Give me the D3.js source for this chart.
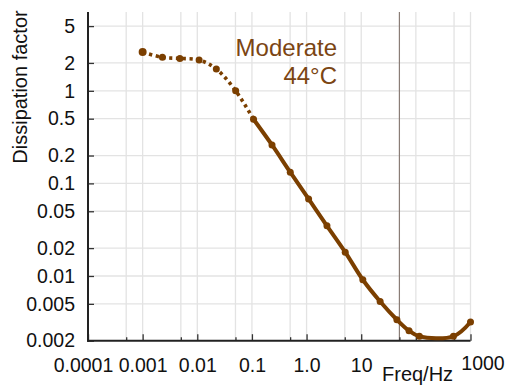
<!DOCTYPE html>
<html>
<head>
<meta charset="utf-8">
<script src="https://cdn.jsdelivr.net/npm/d3@7"></script>
<style>
  body { margin: 0; background: #fff; }
  svg { display: block; font-family: "Liberation Sans", Arial, sans-serif; }
</style>
</head>
<body>
<svg id="chart" width="507" height="387"></svg>
<script>
// frequencias (Hz) y factor de disipacion
const freqs = [0.001, 0.0023, 0.0048, 0.0108, 0.0223, 0.0504, 0.107, 0.233, 0.503, 1.09, 2.36, 5.1, 10.7, 22.2, 45, 75, 116, 487, 1000];
const dissipation = [2.62, 2.30, 2.24, 2.15, 1.72, 1.0, 0.493, 0.260, 0.132, 0.068, 0.0348, 0.0181, 0.0091, 0.0053, 0.00337, 0.00256, 0.00223, 0.00223, 0.00318];
const dottedUntil = 6; // los primeros puntos van punteados (hasta 0.1 Hz)

const yTicks = [0.002, 0.005, 0.01, 0.02, 0.05, 0.1, 0.2, 0.5, 1, 2, 5];
const yTickLabels = ["0.002", "0.005", "0.01", "0.02", "0.05", "0.1", "0.2", "0.5", "1", "2", "5"];
const xMajor = [0.0001, 0.001, 0.01, 0.1, 1, 10, 100, 1000];
const xMajorLabels = ["0.0001", "0.001", "0.01", "0.1", "1.0", "10", "", "1000"];
const xMinor = [0.0005, 0.005, 0.05, 0.5, 5, 50, 500];
const markerFreq = 50;

const annotation = ["Moderate", "44°C"];
const xTitle = "Freq/Hz";
const yTitle = "Dissipation factor";

const brown = "#7b3f00";
const textBrown = "#7b4513";

const svg = d3.select("#chart");

const mLeft = 88, mRight = 470.5, mTop = 12, mBottom = 340.7;

const x = d3.scaleLog().domain([0.0001, 1000]).range([mLeft, mRight]);
const y = d3.scaleLog().domain([0.002, 7.1]).range([mBottom, mTop]);

// grilla
const grid = svg.append("g");
grid.selectAll("line.h")
  .data(yTicks.slice(1))
  .join("line")
  .attr("class", "h")
  .attr("x1", mLeft).attr("x2", mRight)
  .attr("y1", d => y(d)).attr("y2", d => y(d))
  .attr("stroke", "#e3e3e3").attr("stroke-width", 1.3);

grid.selectAll("line.v")
  .data(xMajor.slice(1).concat(xMinor).filter(d => d !== markerFreq))
  .join("line")
  .attr("class", "v")
  .attr("x1", d => x(d)).attr("x2", d => x(d))
  .attr("y1", mTop).attr("y2", mBottom)
  .attr("stroke", "#e3e3e3").attr("stroke-width", 1.3);

// linea de 50 Hz
svg.append("line")
  .attr("x1", x(markerFreq)).attr("x2", x(markerFreq))
  .attr("y1", mTop).attr("y2", mBottom)
  .attr("stroke", "#8a7d76").attr("stroke-width", 1.2);

// Ejes
const yAxis = svg.append("g")
  .attr("transform", `translate(${mLeft},0)`)
  .call(d3.axisLeft(y).tickValues(yTicks)
    .tickFormat((d, i) => yTickLabels[i])
    .tickSizeInner(-6).tickSizeOuter(0).tickPadding(13));
yAxis.select(".domain").remove();
yAxis.selectAll(".tick line").attr("stroke", "#333").attr("stroke-width", 1.3);
yAxis.selectAll("text").attr("font-size", "19.5px").attr("fill", "#111")
  .attr("font-family", "Liberation Sans, Arial, sans-serif");

const xAxis = svg.append("g")
  .attr("transform", `translate(0,${mBottom})`)
  .call(d3.axisBottom(x).tickValues(xMajor)
    .tickFormat((d, i) => xMajorLabels[i])
    .tickSizeInner(-6.5).tickSizeOuter(0).tickPadding(17.5));
xAxis.select(".domain").remove();
xAxis.selectAll(".tick line").attr("stroke", "#333").attr("stroke-width", 1.3);
xAxis.selectAll("text").attr("font-size", "19.5px").attr("fill", "#111")
  .attr("font-family", "Liberation Sans, Arial, sans-serif");
xAxis.selectAll("text").filter((d, i) => i === 0).attr("dx", -5);
xAxis.selectAll("text").filter((d, i) => i === xMajor.length - 1).attr("dx", 12).attr("dy", "0.63em");

const xMinorAxis = svg.append("g")
  .attr("transform", `translate(0,${mBottom})`)
  .call(d3.axisBottom(x).tickValues(xMinor).tickFormat("")
    .tickSizeInner(-3.5).tickSizeOuter(0));
xMinorAxis.select(".domain").remove();
xMinorAxis.selectAll(".tick line").attr("stroke", "#333").attr("stroke-width", 1.3);

svg.append("line")
  .attr("x1", mLeft).attr("x2", mLeft)
  .attr("y1", mTop).attr("y2", mBottom + 1)
  .attr("stroke", "#222").attr("stroke-width", 2);
svg.append("line")
  .attr("x1", mLeft - 1).attr("x2", mRight)
  .attr("y1", mBottom).attr("y2", mBottom)
  .attr("stroke", "#222").attr("stroke-width", 2);

// Serie
const pts = freqs.map((f, i) => ({ f: f, v: dissipation[i] }));
const line = d3.line()
  .x(d => x(d.f))
  .y(d => y(d.v))
  .curve(d3.curveCatmullRom.alpha(0.5));

svg.append("path")
  .datum(pts.slice(0, dottedUntil + 1))
  .attr("d", line)
  .attr("fill", "none")
  .attr("stroke", brown)
  .attr("stroke-width", 3.6)
  .attr("stroke-dasharray", "3.2 3.6");

svg.append("path")
  .datum(pts.slice(dottedUntil))
  .attr("d", line)
  .attr("fill", "none")
  .attr("stroke", brown)
  .attr("stroke-width", 4)
  .attr("stroke-linejoin", "round");

svg.selectAll("circle.pt")
  .data(pts)
  .join("circle")
  .attr("class", "pt")
  .attr("cx", d => x(d.f))
  .attr("cy", d => y(d.v))
  .attr("r", (d, i) => i === 0 ? 4 : 3.5)
  .attr("fill", brown);

// anotacion
svg.append("text")
  .attr("x", 337).attr("y", 55.5)
  .attr("text-anchor", "end")
  .attr("font-size", "24px")
  .attr("fill", textBrown)
  .text(annotation[0]);
svg.append("text")
  .attr("x", 337).attr("y", 83.5)
  .attr("text-anchor", "end")
  .attr("font-size", "24px")
  .attr("fill", textBrown)
  .text(annotation[1]);

// titulos
svg.append("text")
  .attr("x", 382).attr("y", 381)
  .attr("font-size", "20px")
  .attr("fill", "#111")
  .text(xTitle);

svg.append("text")
  .attr("transform", "translate(27,87) rotate(-90)")
  .attr("text-anchor", "middle")
  .attr("font-size", "20px")
  .attr("fill", "#111")
  .text(yTitle);
</script>
</body>
</html>
